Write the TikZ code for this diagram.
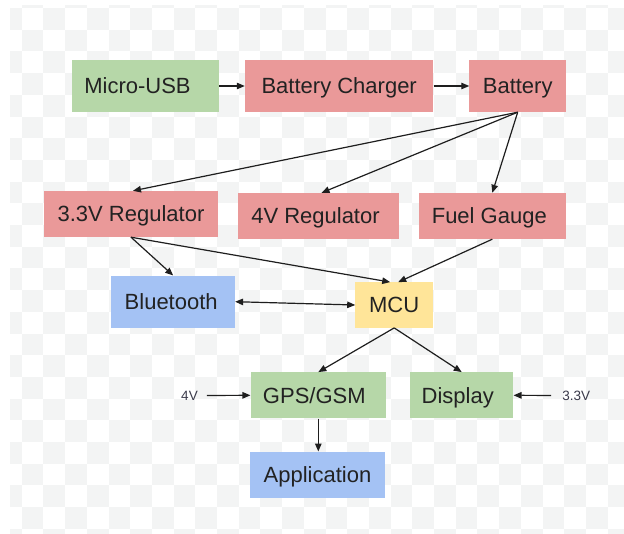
\documentclass[tikz,border=0pt]{standalone}
\usepackage{fontspec}
\setmainfont{Liberation Sans}
\usetikzlibrary{arrows.meta}
\definecolor{chk}{HTML}{F3F4F4}
\definecolor{gfill}{HTML}{B6D7A8}
\definecolor{rfill}{HTML}{EA9999}
\definecolor{bfill}{HTML}{A4C2F4}
\definecolor{yfill}{HTML}{FFE599}
\definecolor{txt}{HTML}{222222}
\definecolor{lbl}{HTML}{3A3A4A}
\definecolor{ln}{HTML}{1E1E1E}
\tikzset{
  blk/.style={rectangle, inner sep=0pt, text=txt, font=\fontsize{22}{24}\selectfont, text height=17pt, text depth=1.6pt, anchor=center},
  gbox/.style={blk, fill=gfill},
  rbox/.style={blk, fill=rfill},
  bbox/.style={blk, fill=bfill},
  ybox/.style={blk, fill=yfill},
  vlbl/.style={inner sep=0pt, text=lbl, font=\fontsize{13.5}{16}\selectfont, anchor=center},
  arr/.style={draw=ln, line width=1.2pt, -{Triangle[length=8pt,width=6.5pt]}},
  darr/.style={draw=ln, line width=1.2pt, {Triangle[length=8pt,width=6.5pt]}-{Triangle[length=8pt,width=6.5pt]}}
}
\begin{document}
\begin{tikzpicture}[x=1pt,y=-1pt]
\useasboundingbox (0,0) rectangle (624,533);
\fill[white] (0,0) rectangle (624,533);
\begin{scope}
\clip (10,5) rectangle (624,533);
\foreach \i in {0,...,28} {
  \foreach \j in {-1,...,24} {
    \pgfmathtruncatemacro\s{\i+\j+2}
    \ifodd\s\else
      \fill[chk] ({21.7*\i},{8+21.7*\j}) rectangle ++(21.7,21.7);
    \fi
  }
}
\end{scope}

% boxes
\node[gbox, minimum width=147pt, minimum height=52pt] (usb) at (145.5,86) {\hspace*{-8pt}Micro-USB\hspace*{8pt}};
\node[rbox, minimum width=188.5pt, minimum height=52pt] (chg) at (339.2,86) {Battery Charger};
\node[rbox, minimum width=96.5pt, minimum height=52pt] (bat) at (517.7,86) {Battery};
\node[rbox, minimum width=174pt, minimum height=46pt] (r33) at (131,214) {3.3V Regulator};
\node[rbox, minimum width=161pt, minimum height=46pt] (r4) at (318.5,216) {\hspace*{-3pt}4V Regulator\hspace*{3pt}};
\node[rbox, minimum width=147.4pt, minimum height=46pt] (fg) at (492.3,216) {\hspace*{-3pt}Fuel Gauge\hspace*{3pt}};
\node[bbox, minimum width=123.5pt, minimum height=52pt] (bt) at (173.2,301.7) {\hspace*{-2pt}Bluetooth\hspace*{2pt}};
\node[ybox, minimum width=77.6pt, minimum height=45.4pt] (mcu) at (394.2,305) {MCU};
\node[gbox, minimum width=135.3pt, minimum height=46pt] (gps) at (318.3,395.3) {\hspace*{-4pt}GPS/GSM\hspace*{4pt}};
\node[gbox, minimum width=103.3pt, minimum height=46pt] (disp) at (461.7,395.3) {\hspace*{-4pt}Display\hspace*{4pt}};
\node[bbox, minimum width=135pt, minimum height=46pt] (app) at (317.5,474.7) {Application};

% voltage labels
\node[vlbl] (l4) at (189.5,395.5) {4V};
\node[vlbl] (l33) at (576.2,395.5) {3.3V};

% connectors
\draw[arr] (usb.east) -- (chg.west);
\draw[arr] (chg.east) -- (bat.west);
\draw[arr] (bat.south) -- ([xshift=2pt]r33.north);
\draw[arr] (bat.south) -- ([xshift=3pt]r4.north);
\draw[arr] (bat.south) -- (fg.north);
\draw[arr] (r33.south) -- (bt.north);
\draw[arr] (r33.south) -- ([xshift=-4pt]mcu.north);
\draw[arr] (fg.south) -- ([xshift=4pt]mcu.north);
\draw[darr] (bt.east) -- (mcu.west);
\draw[arr] (mcu.south) -- (gps.north);
\draw[arr] (mcu.south) -- (disp.north);
\draw[arr] (gps.south) -- (gps.south |- app.north);
\draw[arr, shorten <=9pt] (l4.east) -- (gps.west);
\draw[arr, shorten <=11pt] (l33.west) -- (disp.east);
\end{tikzpicture}
\end{document}
